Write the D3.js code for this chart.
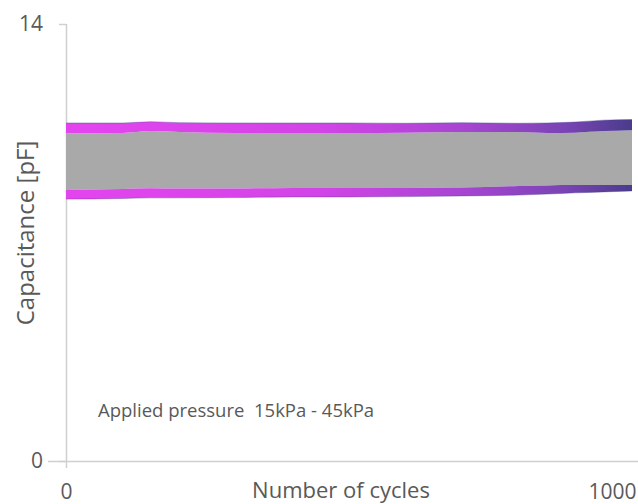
<!DOCTYPE html>
<html>
<head>
<meta charset="utf-8">
<script src="https://cdn.jsdelivr.net/npm/d3@7"></script>
<style>
  html, body { margin: 0; padding: 0; background: #fff; }
  svg { display: block; }
  text { font-family: "Open Sans", sans-serif; fill: #595959; }
</style>
</head>
<body>
<svg id="chart" width="638" height="504"></svg>
<script>
// Cycle count where the envelope was sampled
const cycles = [0, 100, 150, 200, 300, 400, 500, 600, 700, 800, 850, 900, 950, 1000];
// Capacitance envelope at 45 kPa (upper trace): max and min of the oscillation
const highMax = [10.83, 10.83, 10.87, 10.84, 10.83, 10.83, 10.83, 10.82, 10.84, 10.82, 10.83, 10.86, 10.92, 10.94];
const highMin = [10.50, 10.51, 10.57, 10.54, 10.51, 10.51, 10.51, 10.52, 10.54, 10.54, 10.51, 10.52, 10.57, 10.60];
// Capacitance envelope at 15 kPa (lower trace)
const lowMax = [8.68, 8.71, 8.74, 8.73, 8.73, 8.75, 8.75, 8.75, 8.76, 8.81, 8.83, 8.84, 8.84, 8.84];
const lowMin = [8.39, 8.41, 8.43, 8.43, 8.44, 8.46, 8.46, 8.47, 8.49, 8.52, 8.55, 8.59, 8.62, 8.65];

const yTicks = [0, 14];
const xTicks = [0, 1000];
const yTitle = "Capacitance [pF]";
const xTitle = "Number of cycles";
const note = "Applied pressure  15kPa - 45kPa";

const rows = cycles.map((c, i) => ({
  c, hMax: highMax[i], hMin: highMin[i], lMax: lowMax[i], lMin: lowMin[i]
}));

const svg = d3.select("#chart");
const x = d3.scaleLinear().domain([0, 1000]).range([66, 632]);
const y = d3.scaleLinear().domain([0, 14]).range([461, 24]);

// Horizontal colour ramp used for both traces
const defs = svg.append("defs");
const grad = defs.append("linearGradient")
  .attr("id", "ramp").attr("gradientUnits", "userSpaceOnUse")
  .attr("x1", x(0)).attr("x2", x(1000)).attr("y1", 0).attr("y2", 0);
[[0, "#e444ef"], [0.45, "#d244e6"], [0.7, "#a845d2"], [0.88, "#7a44b4"], [1, "#4a3c8c"]]
  .forEach(([o, c]) => grad.append("stop").attr("offset", o).attr("stop-color", c));

// Axes
const gY = svg.append("g").attr("transform", `translate(${x(0)},0)`)
  .call(d3.axisLeft(y).tickValues(yTicks).tickSize(7).tickPadding(16));
const gX = svg.append("g").attr("transform", `translate(0,${y(0)})`)
  .call(d3.axisBottom(x).tickValues(xTicks).tickFormat(d3.format("d")).tickSize(7).tickPadding(16));
[gY, gX].forEach(g => {
  g.selectAll("path, line").attr("stroke", "#d0d0d0").attr("stroke-width", 1.5);
  g.selectAll("text").style("font-size", "21px").attr("fill", "#595959");
});
gX.select(".domain").attr("d", `M${x(0) - 18},0.5H638`);
gY.select(".domain").attr("d", `M0.5,${y(14)}V${y(0)}`);
gX.selectAll(".tick text").filter(d => d === 1000).attr("text-anchor", "end").attr("dx", 4);
gX.selectAll(".tick line").filter(d => d === 1000).remove();

// Grey region between the two traces
const area = (top, bot) => d3.area().x(d => x(d.c)).y0(d => y(d[bot])).y1(d => y(d[top]))
  .curve(d3.curveMonotoneX);
svg.append("path").datum(rows).attr("d", area("hMin", "lMax")).attr("fill", "#a9a9a9");

// Oscillation envelopes of each trace
[["hMax", "hMin"], ["lMax", "lMin"]].forEach(([t, b]) => {
  svg.append("path").datum(rows).attr("d", area(t, b))
    .attr("fill", "url(#ramp)");
});
// thin dark outline on the outer edges
[["hMax"], ["lMin"]].forEach(([k]) => {
  svg.append("path").datum(rows)
    .attr("d", d3.line().x(d => x(d.c)).y(d => y(d[k])).curve(d3.curveMonotoneX))
    .attr("fill", "none").attr("stroke", "#3c3c8a").attr("stroke-opacity", 0.35).attr("stroke-width", 1);
});

// Titles and annotation
svg.append("text")
  .attr("transform", `translate(34,${(133 + 333) / 2}) rotate(-90)`)
  .attr("text-anchor", "middle").style("font-size", "24px").text(yTitle);
svg.append("text").attr("x", 341).attr("y", 498)
  .attr("text-anchor", "middle").style("font-size", "22px").text(xTitle);
svg.append("text").attr("x", 98).attr("y", 417)
  .style("font-size", "18.5px").style("white-space", "pre").text(note);
</script>
</body>
</html>
